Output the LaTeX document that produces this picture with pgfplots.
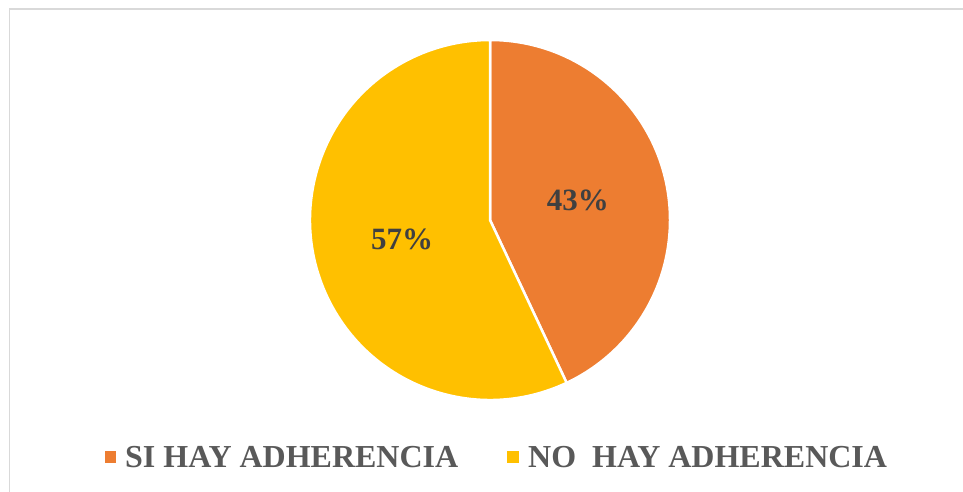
\documentclass[border=0pt]{standalone}
\usepackage{pgfplots}
\usepackage{pgfplotstable}
\pgfplotsset{compat=1.18}
\usetikzlibrary{calc}
\usepackage{fontspec}
\setmainfont{Liberation Serif}

\definecolor{siorange}{HTML}{ED7D31}
\definecolor{noyellow}{HTML}{FFC000}
\definecolor{labelgray}{HTML}{404040}
\definecolor{legendgray}{HTML}{595959}
\definecolor{framegray}{HTML}{D9D9D9}

% share of each answer, in %
\pgfplotstableread{
answer value
SI 43
NO 57
}\piedata

\begin{document}
\begin{tikzpicture}
\pgfplotstablegetelem{0}{value}\of\piedata \let\vsi=\pgfplotsretval
\pgfplotstablegetelem{1}{value}\of\piedata \let\vno=\pgfplotsretval
\pgfmathsetmacro{\aend}{90-3.6*\vsi}
\pgfmathsetmacro{\bend}{\aend-3.6*\vno}
\pgfmathsetmacro{\amid}{(90+\aend)/2}
\pgfmathsetmacro{\bmid}{(\aend+\bend)/2}
\begin{axis}[
    scale only axis,
    width=963bp, height=492bp,
    xmin=0, xmax=963,
    ymin=0, ymax=492,
    hide axis,
    clip=false,
]
% frame
\draw[framegray, line width=1.5bp] (axis cs:9.5,-20) -- (axis cs:9.5,483) -- (axis cs:990,483);
% slices
\fill[siorange, draw=white, line width=2.5bp, line join=miter]
    (axis cs:490,272) -- ++(90:180bp) arc[start angle=90, end angle=\aend, radius=180bp] -- cycle;
\fill[noyellow, draw=white, line width=2.5bp, line join=miter]
    (axis cs:490,272) -- ++(\aend:180bp) arc[start angle=\aend, end angle=\bend, radius=180bp] -- cycle;
% value labels
\node[text=labelgray, font=\fontsize{31bp}{36bp}\selectfont\bfseries]
    at ($(axis cs:490,272)+(\amid:90bp)$) {\vsi\%};
\node[text=labelgray, font=\fontsize{31bp}{36bp}\selectfont\bfseries]
    at ($(axis cs:490,272)+(\bmid:90bp)$) {\vno\%};
% legend
\fill[siorange] (axis cs:105,29) rectangle (axis cs:116,41);
\node[anchor=base west, inner sep=0pt, text=legendgray, font=\fontsize{32bp}{38bp}\selectfont\bfseries]
    at (axis cs:125,25) {SI HAY ADHERENCIA};
\fill[noyellow] (axis cs:507,29) rectangle (axis cs:519,41);
\node[anchor=base west, inner sep=0pt, text=legendgray, font=\fontsize{32bp}{38bp}\selectfont\bfseries]
    at (axis cs:528,25) {NO\ \ HAY ADHERENCIA};
\end{axis}
\pgfresetboundingbox
\useasboundingbox (0,0) rectangle (963bp,492bp);
\end{tikzpicture}
\end{document}
